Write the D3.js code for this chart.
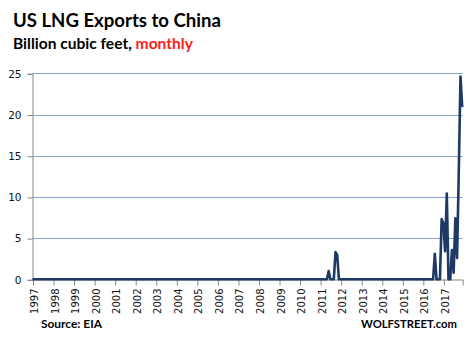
<!DOCTYPE html>
<html>
<head>
<meta charset="utf-8">
<script src="https://cdn.jsdelivr.net/npm/d3@7"></script>
<style>
  html, body { margin: 0; padding: 0; background: #fff; }
  svg { display: block; }
</style>
</head>
<body>
<svg id="chart" width="468" height="344"></svg>
<script>
// ---- data ----
const years = ["1997","1998","1999","2000","2001","2002","2003","2004","2005","2006",
               "2007","2008","2009","2010","2011","2012","2013","2014","2015","2016","2017"];
// monthly values (Bcf), one row per year, Jan..Dec
const monthlyValues = [
  [0,0,0,0,0,0,0,0,0,0,0,0], // 1997
  [0,0,0,0,0,0,0,0,0,0,0,0], // 1998
  [0,0,0,0,0,0,0,0,0,0,0,0], // 1999
  [0,0,0,0,0,0,0,0,0,0,0,0], // 2000
  [0,0,0,0,0,0,0,0,0,0,0,0], // 2001
  [0,0,0,0,0,0,0,0,0,0,0,0], // 2002
  [0,0,0,0,0,0,0,0,0,0,0,0], // 2003
  [0,0,0,0,0,0,0,0,0,0,0,0], // 2004
  [0,0,0,0,0,0,0,0,0,0,0,0], // 2005
  [0,0,0,0,0,0,0,0,0,0,0,0], // 2006
  [0,0,0,0,0,0,0,0,0,0,0,0], // 2007
  [0,0,0,0,0,0,0,0,0,0,0,0], // 2008
  [0,0,0,0,0,0,0,0,0,0,0,0], // 2009
  [0,0,0,0,0,0,0,0,0,0,0,0], // 2010
  [0,0,0,0,0,1.0,0,0,0,3.3,2.95,0], // 2011
  [0,0,0,0,0,0,0,0,0,0,0,0], // 2012
  [0,0,0,0,0,0,0,0,0,0,0,0], // 2013
  [0,0,0,0,0,0,0,0,0,0,0,0], // 2014
  [0,0,0,0,0,0,0,0,0,0,0,0], // 2015
  [0,0,0,0,0,0,0,3.1,0,0,0,7.3], // 2016
  [6.8,3.4,10.4,0,0,3.55,0.8,7.4,2.6,13,24.6,20.9] // 2017
];
const yTicks = [0, 5, 10, 15, 20, 25];
const titleText = "US LNG Exports to China";
const subtitleText = "Billion cubic feet, ";
const subtitleRed = "monthly";
const sourceText = "Source: EIA";
const brandText = "WOLFSTREET.com";

// ---- build series ----
const series = [];
monthlyValues.forEach((row, yi) => row.forEach((v, mi) => series.push({ i: yi * 12 + mi, v })));

const svg = d3.select("#chart");
const plotLeft = 32.5, plotRight = 462.2, plotTop = 73.3, plotBottom = 279.3;

const x = d3.scaleLinear().domain([0, series.length - 1]).range([plotLeft, plotRight]);
const y = d3.scaleLinear().domain([0, 25]).range([plotBottom, plotTop]);

// gridlines
svg.append("g").selectAll("line").data(yTicks.filter(d => d > 0)).join("line")
  .attr("x1", plotLeft).attr("x2", plotRight + 0.5)
  .attr("y1", d => Math.round(y(d)) + 0.5).attr("y2", d => Math.round(y(d)) + 0.5)
  .attr("stroke", "#86a3d4").attr("stroke-width", 1);

// y axis
const yAxis = d3.axisLeft(y).tickValues(yTicks).tickSize(5).tickPadding(6).tickFormat(d3.format("d"));
const gy = svg.append("g").attr("transform", `translate(${plotLeft},0.5)`).call(yAxis);
gy.select(".domain").attr("stroke", "#868686");
gy.selectAll(".tick line").attr("stroke", "#868686");
gy.selectAll(".tick text").attr("font-family", "DejaVu Sans").attr("font-size", 10.5).attr("fill", "#111");

// x axis
const yearIdx = years.map((yr, k) => k * 12);
const xAxis = d3.axisBottom(x).tickValues(yearIdx).tickSize(6).tickFormat((d, k) => years[k]);
const gx = svg.append("g").attr("transform", `translate(0.5,${Math.round(plotBottom) + 0.5})`).call(xAxis);
gx.select(".domain").attr("stroke", "#868686");
gx.selectAll(".tick line").attr("stroke", "#868686");
gx.selectAll(".tick text")
  .attr("font-family", "DejaVu Sans").attr("font-size", 10).attr("fill", "#111")
  .attr("text-anchor", "end")
  .attr("transform", "translate(0,9) rotate(-90)")
  .attr("x", 0).attr("y", 0).attr("dx", 0).attr("dy", "0.45em");

// line
const line = d3.line().x(d => x(d.i)).y(d => y(d.v));
svg.append("path").datum(series)
  .attr("d", line)
  .attr("fill", "none")
  .attr("stroke", "#1d3a64")
  .attr("stroke-width", 2.6)
  .attr("stroke-linejoin", "round");

// text helper: fit to target width
function fit(sel, target) {
  const w = sel.node().getComputedTextLength();
  const fs = parseFloat(sel.attr("font-size"));
  sel.attr("font-size", fs * target / w);
}

const title = svg.append("text").attr("x", 13).attr("y", 27)
  .attr("font-family", "Lato").attr("font-weight", "bold").attr("font-size", 18)
  .attr("fill", "#000").text(titleText);
fit(title, 208);

const sub = svg.append("text").attr("x", 13).attr("y", 48.5)
  .attr("font-family", "Lato").attr("font-weight", "bold").attr("font-size", 13)
  .attr("fill", "#000");
sub.append("tspan").text(subtitleText);
sub.append("tspan").attr("fill", "#ff1a1a").text(subtitleRed);
fit(sub, 180);

const src = svg.append("text").attr("x", 41).attr("y", 328)
  .attr("font-family", "Lato").attr("font-weight", "bold").attr("font-size", 12)
  .attr("fill", "#000").text(sourceText);
fit(src, 61);

const brand = svg.append("text").attr("x", 361).attr("y", 328)
  .attr("font-family", "Lato").attr("font-weight", "bold").attr("font-size", 12)
  .attr("fill", "#000").text(brandText);
fit(brand, 96);
</script>
</body>
</html>
